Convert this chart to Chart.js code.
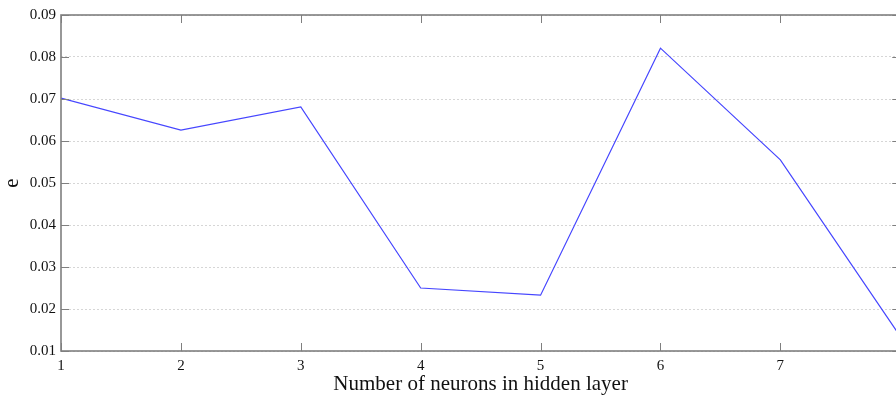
<!DOCTYPE html>
<html>
<head>
<meta charset="utf-8">
<script src="https://cdn.jsdelivr.net/npm/chart.js@4.4.0/dist/chart.umd.min.js"></script>
<style>
  html, body { margin: 0; padding: 0; background: #fff; overflow: hidden; }
  #wrap { width: 910px; height: 399px; }
</style>
</head>
<body>
<div id="wrap"><canvas id="myChart" width="910" height="399"></canvas></div>
<script>
// neurons in hidden layer vs error e
var neurons = [1, 2, 3, 4, 5, 6, 7, 8];
var errValues = [0.0702, 0.0626, 0.0681, 0.0250, 0.0233, 0.0821, 0.0555, 0.0135];
var yTicks = [0.01, 0.02, 0.03, 0.04, 0.05, 0.06, 0.07, 0.08, 0.09];

var axisColor = '#7f7f7f';

// frame + inward tick marks, like matlab plots
var frameTicks = {
  id: 'frameTicks',
  afterDraw: function(chart) {
    var c = chart.ctx, a = chart.chartArea;
    var xs = chart.scales.x, ys = chart.scales.y;
    c.save();
    c.strokeStyle = axisColor;
    c.lineWidth = 1.6;
    c.strokeRect(a.left, a.top, a.right - a.left, a.bottom - a.top);
    c.lineWidth = 1;
    c.beginPath();
    neurons.forEach(function(n) {
      var px = Math.round(xs.getPixelForValue(n)) + 0.5;
      c.moveTo(px, a.bottom); c.lineTo(px, a.bottom - 8);
      c.moveTo(px, a.top); c.lineTo(px, a.top + 8);
    });
    yTicks.forEach(function(v) {
      var py = Math.round(ys.getPixelForValue(v)) + 0.5;
      c.moveTo(a.left, py); c.lineTo(a.left + 8, py);
      c.moveTo(a.right, py); c.lineTo(a.right - 8, py);
    });
    c.stroke();
    c.restore();
  }
};

var ctx = document.getElementById('myChart').getContext('2d');
var lineChart = new Chart(ctx, {
  type: 'line',
  data: {
    datasets: [{
      data: neurons.map(function(n, i) { return { x: n, y: errValues[i] }; }),
      borderColor: '#4646ff',
      borderWidth: 1.2,
      pointRadius: 0,
      tension: 0,
      fill: false
    }]
  },
  options: {
    responsive: false,
    animation: false,
    layout: { padding: { top: 15, right: 9, left: 0, bottom: 0 } },
    plugins: { legend: { display: false }, tooltip: { enabled: false } },
    scales: {
      x: {
        type: 'linear',
        min: 1, max: 8,
        afterFit: function(s) { s.height = 48; },
        afterBuildTicks: function(s) { s.ticks = neurons.map(function(v) { return { value: v }; }); },
        grid: { display: false, drawTicks: false },
        border: { display: false },
        ticks: {
          padding: 6,
          color: '#111',
          font: { family: 'Liberation Serif', size: 15 },
          callback: function(v) { return String(v); }
        },
        title: {
          display: true,
          text: 'Number of neurons in hidden layer',
          color: '#111',
          font: { family: 'Liberation Serif', size: 21 },
          padding: { top: 0, bottom: 2 }
        }
      },
      y: {
        min: 0.01, max: 0.09,
        afterFit: function(s) { s.width = 61; },
        afterBuildTicks: function(s) { s.ticks = yTicks.map(function(v) { return { value: v }; }); },
        grid: {
          color: '#d6d6d6',
          lineWidth: 1,
          drawTicks: false
        },
        border: { display: false, dash: [2, 2] },
        ticks: {
          padding: 5,
          color: '#111',
          font: { family: 'Liberation Serif', size: 15 },
          callback: function(v) { return v.toFixed(2); }
        },
        title: {
          display: true,
          text: 'e',
          color: '#111',
          font: { family: 'Liberation Serif', size: 21 },
          padding: { top: 0, bottom: 2 }
        }
      }
    }
  },
  plugins: [frameTicks]
});
</script>
</body>
</html>
